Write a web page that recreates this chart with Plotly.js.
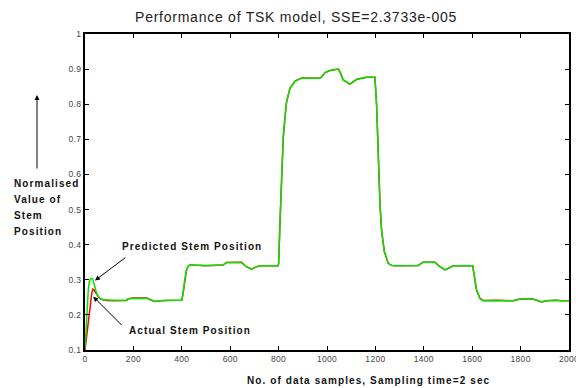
<!DOCTYPE html>
<html>
<head>
<meta charset="utf-8">
<script src="https://cdn.plot.ly/plotly-3.0.1.min.js"></script>
<style>
html,body{margin:0;padding:0;background:#fff}
#chart{width:576px;height:388px}
.annotation-text{letter-spacing:1.1px}
.gtitle{letter-spacing:0.75px}
.xtick text,.ytick text{letter-spacing:0.3px}
</style>
</head>
<body>
<div id="chart"></div>
<script>
const samples = [0,5,10,14,18,23,28,32,37,41,48,55,62,76,90,120,172,178,200,256,270,289,310,339,400,405,412,420,428,434,500,570,585,647,665,688,705,723,797,800,806,813,819,826,833,847,868,895,971,978,992,1012,1047,1055,1067,1095,1123,1164,1198,1205,1212,1219,1226,1237,1253,1267,1281,1377,1390,1397,1446,1465,1488,1505,1522,1602,1607,1618,1632,1646,1700,1770,1785,1798,1851,1870,1887,1905,1921,1948,1970,2000];
const predicted = [0.105,0.17,0.242,0.275,0.295,0.302,0.304,0.302,0.29,0.28,0.261,0.252,0.247,0.243,0.242,0.242,0.242,0.246,0.247,0.247,0.243,0.238,0.24,0.242,0.242,0.26,0.3,0.33,0.34,0.342,0.341,0.342,0.349,0.349,0.338,0.33,0.336,0.34,0.34,0.345,0.466,0.627,0.703,0.76,0.807,0.845,0.866,0.874,0.874,0.878,0.89,0.896,0.9,0.89,0.869,0.857,0.871,0.877,0.877,0.798,0.656,0.513,0.437,0.38,0.347,0.341,0.34,0.341,0.347,0.35,0.35,0.338,0.328,0.335,0.34,0.34,0.318,0.271,0.247,0.24,0.241,0.24,0.243,0.245,0.245,0.24,0.237,0.24,0.241,0.242,0.24,0.24];
const actual = [0.1,0.13,0.17,0.195,0.22,0.242,0.262,0.273,0.272,0.266,0.258,0.252,0.247,0.242,0.241,0.24,0.241,0.246,0.248,0.248,0.243,0.238,0.24,0.241,0.242,0.26,0.3,0.33,0.34,0.342,0.34,0.342,0.349,0.35,0.338,0.33,0.336,0.34,0.34,0.345,0.467,0.628,0.703,0.76,0.807,0.845,0.866,0.875,0.874,0.878,0.89,0.896,0.9,0.89,0.869,0.857,0.871,0.877,0.877,0.798,0.657,0.514,0.437,0.38,0.347,0.341,0.34,0.341,0.347,0.35,0.35,0.338,0.328,0.335,0.34,0.34,0.318,0.271,0.247,0.241,0.242,0.24,0.243,0.245,0.245,0.24,0.237,0.24,0.241,0.242,0.24,0.24];

const titleText = 'Performance of TSK model, SSE=2.3733e-005';
const xTitle = 'No. of data samples, Sampling time=2 sec';
const yTitleLines = ['Normalised', 'Value of', 'Stem', 'Position'];
const predLabel = 'Predicted Stem Position';
const actLabel = 'Actual Stem Position';

const data = [
  {x: samples, y: actual, type: 'scatter', mode: 'lines', line: {color: 'rgb(255,0,0)', width: 1.5}, name: 'Actual'},
  {x: samples, y: predicted, type: 'scatter', mode: 'lines', line: {color: 'rgb(0,230,0)', width: 1.5}, name: 'Predicted'}
];

const tickFont = {family: 'Liberation Sans, Arial, sans-serif', size: 8.5, color: '#444'};
const boldFont = {family: 'Liberation Sans, Arial, sans-serif', size: 10, color: '#111', weight: 'bold'};

const annotations = [
  {text: xTitle, xref: 'paper', yref: 'paper', x: 0.585, y: -0.098, xanchor: 'center', yanchor: 'middle', showarrow: false, font: boldFont},
  {text: '', xref: 'paper', yref: 'paper', x: -0.0992, y: 0.807, ax: 0, ay: 75, showarrow: true, arrowhead: 2, arrowsize: 1, arrowwidth: 1, arrowcolor: '#000'},
  {text: predLabel, xref: 'x', yref: 'y', x: 442, y: 0.396, xanchor: 'center', yanchor: 'middle', showarrow: false, font: boldFont},
  {text: actLabel, xref: 'x', yref: 'y', x: 432, y: 0.155, xanchor: 'center', yanchor: 'middle', showarrow: false, font: boldFont},
  {text: '', xref: 'x', yref: 'y', x: 41, y: 0.298, ax: 32, ay: -24, showarrow: true, arrowhead: 2, arrowsize: 1, arrowwidth: 1, arrowcolor: '#000'},
  {text: '', xref: 'x', yref: 'y', x: 34, y: 0.252, ax: 30, ay: 30, showarrow: true, arrowhead: 2, arrowsize: 1, arrowwidth: 1, arrowcolor: '#000'}
];
// y-axis label lines, 16px apart (first line centre at 183px from top)
yTitleLines.forEach((line, i) => {
  annotations.push({text: line, xref: 'paper', yref: 'paper', x: -0.1508, y: (350 - (183 + 16.3 * i)) / 316,
    xanchor: 'left', yanchor: 'middle', align: 'left', showarrow: false, font: boldFont});
});

const layout = {
  width: 576, height: 388,
  margin: {l: 85, r: 7, t: 34, b: 38},
  paper_bgcolor: '#fff', plot_bgcolor: '#fff',
  showlegend: false,
  title: {text: titleText, x: 0.514, xref: 'container', xanchor: 'center', y: 0.956, yref: 'container', yanchor: 'middle',
          font: {family: 'Liberation Sans, Arial, sans-serif', size: 14, color: '#222'}},
  xaxis: {range: [0, 2000], dtick: 200, tick0: 0, showgrid: false, zeroline: false,
          showline: true, linecolor: '#000', linewidth: 2, mirror: 'ticks',
          ticks: 'inside', ticklen: 4, tickcolor: '#000', tickwidth: 1, tickfont: tickFont,
          ticklabeloverflow: 'allow'},
  yaxis: {range: [0.1, 1], dtick: 0.1, tick0: 0, showgrid: false, zeroline: false,
          showline: true, linecolor: '#000', linewidth: 2, mirror: 'ticks',
          ticks: 'inside', ticklen: 4, tickcolor: '#000', tickwidth: 1, tickfont: tickFont},
  annotations: annotations
};

Plotly.newPlot('chart', data, layout, {displayModeBar: false, staticPlot: true});
</script>
</body>
</html>
